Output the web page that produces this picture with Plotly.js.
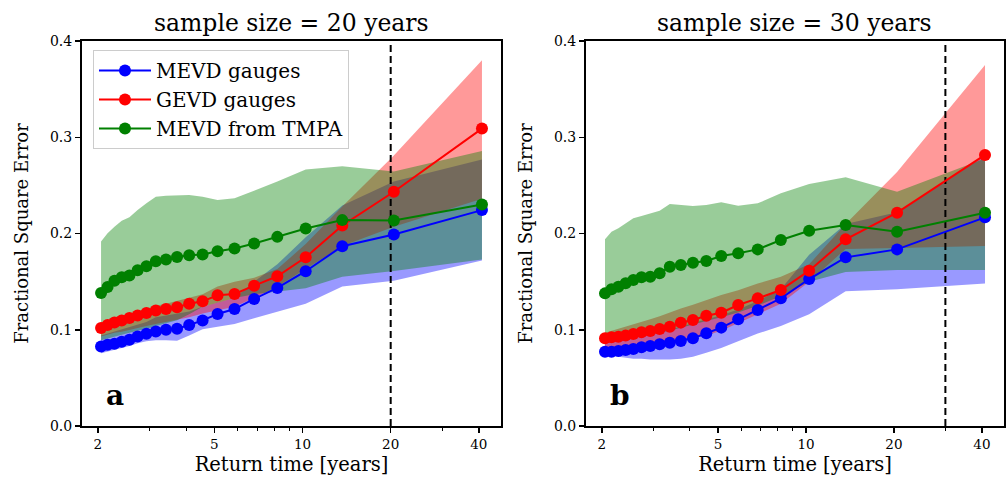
<!DOCTYPE html>
<html>
<head>
<meta charset="utf-8">
<script src="https://cdn.plot.ly/plotly-3.0.1.min.js"></script>
<style>html,body{margin:0;padding:0;background:#fff;}#chart{width:1006px;height:477px;}</style>
</head>
<body>
<div id="chart"></div>
<script>
// Return times [years]
const returnTimes = [2.05, 2.158, 2.278, 2.412, 2.5625, 2.733, 2.929, 3.154, 3.417, 3.727, 4.1, 4.556, 5.125, 5.857, 6.833, 8.2, 10.25, 13.667, 20.5, 41];

// Panel a: sample size = 20 years
const mevdGauges20 = [0.0826, 0.0844, 0.0854, 0.0875, 0.0896, 0.093, 0.0958, 0.0983, 0.100, 0.101, 0.105, 0.1097, 0.1163, 0.1215, 0.132, 0.1434, 0.1608, 0.1868, 0.199, 0.2243];
const mevdGauges20Lo = [0.0755, 0.077, 0.079, 0.081, 0.083, 0.086, 0.088, 0.089, 0.089, 0.0885, 0.094, 0.1005, 0.103, 0.106, 0.112, 0.119, 0.127, 0.145, 0.151, 0.172];
const mevdGauges20Hi = [0.094, 0.096, 0.098, 0.100, 0.102, 0.105, 0.108, 0.113, 0.115, 0.117, 0.119, 0.124, 0.128, 0.133, 0.150, 0.168, 0.196, 0.229, 0.254, 0.277];
const gevdGauges20 = [0.1017, 0.105, 0.1076, 0.1097, 0.1122, 0.1149, 0.1174, 0.1201, 0.1215, 0.1233, 0.1271, 0.1295, 0.1358, 0.1372, 0.1458, 0.1556, 0.1753, 0.2083, 0.2434, 0.309];
const gevdGauges20Lo = [0.093, 0.095, 0.097, 0.098, 0.100, 0.102, 0.104, 0.106, 0.108, 0.110, 0.113, 0.117, 0.120, 0.124, 0.133, 0.145, 0.163, 0.187, 0.207, 0.236];
const gevdGauges20Hi = [0.106, 0.109, 0.112, 0.114, 0.116, 0.119, 0.122, 0.125, 0.127, 0.130, 0.133, 0.137, 0.145, 0.150, 0.154, 0.163, 0.189, 0.228, 0.281, 0.380];
const mevdTmpa20 = [0.1382, 0.1444, 0.151, 0.1545, 0.1563, 0.1618, 0.166, 0.1712, 0.1729, 0.1757, 0.1774, 0.1781, 0.1816, 0.1844, 0.1896, 0.1965, 0.2052, 0.2139, 0.2135, 0.2302];
const mevdTmpa20Lo = [0.089, 0.091, 0.093, 0.095, 0.097, 0.099, 0.101, 0.104, 0.107, 0.110, 0.116, 0.124, 0.128, 0.133, 0.137, 0.140, 0.143, 0.155, 0.161, 0.173];
const mevdTmpa20Hi = [0.1916, 0.2002, 0.207, 0.2133, 0.2168, 0.2244, 0.2313, 0.2383, 0.2393, 0.240, 0.240, 0.2383, 0.2348, 0.2365, 0.2445, 0.254, 0.2666, 0.270, 0.2644, 0.2858];

// Panel b: sample size = 30 years
const mevdGauges30 = [0.0772, 0.0772, 0.0779, 0.079, 0.080, 0.0817, 0.0831, 0.0849, 0.0866, 0.0883, 0.0911, 0.0963, 0.1022, 0.1108, 0.1205, 0.1326, 0.1527, 0.1752, 0.1835, 0.2168];
const mevdGauges30Lo = [0.075, 0.073, 0.072, 0.071, 0.070, 0.070, 0.069, 0.069, 0.069, 0.070, 0.072, 0.076, 0.081, 0.088, 0.096, 0.104, 0.116, 0.140, 0.142, 0.148];
const mevdGauges30Hi = [0.090, 0.091, 0.0915, 0.092, 0.093, 0.094, 0.096, 0.098, 0.100, 0.103, 0.107, 0.111, 0.115, 0.121, 0.130, 0.142, 0.178, 0.210, 0.222, 0.281];
const gevdGauges30 = [0.0911, 0.0921, 0.0928, 0.0939, 0.0956, 0.0973, 0.0987, 0.1008, 0.1032, 0.1074, 0.1101, 0.1146, 0.1177, 0.1257, 0.1326, 0.1413, 0.1614, 0.1939, 0.2216, 0.2816];
const gevdGauges30Lo = [0.081, 0.081, 0.082, 0.083, 0.084, 0.085, 0.086, 0.087, 0.088, 0.090, 0.092, 0.094, 0.099, 0.107, 0.116, 0.127, 0.150, 0.184, 0.185, 0.187];
const gevdGauges30Hi = [0.097, 0.099, 0.101, 0.103, 0.105, 0.108, 0.111, 0.114, 0.118, 0.122, 0.126, 0.131, 0.136, 0.141, 0.148, 0.155, 0.168, 0.210, 0.264, 0.375];
const mevdTmpa30 = [0.1378, 0.142, 0.1447, 0.1482, 0.1517, 0.1545, 0.1551, 0.1586, 0.1655, 0.1673, 0.1697, 0.1714, 0.1766, 0.1794, 0.1835, 0.1932, 0.2029, 0.2088, 0.2019, 0.2216];
const mevdTmpa30Lo = [0.089, 0.090, 0.090, 0.091, 0.092, 0.093, 0.095, 0.097, 0.099, 0.102, 0.105, 0.109, 0.113, 0.118, 0.125, 0.135, 0.150, 0.160, 0.162, 0.162];
const mevdTmpa30Hi = [0.194, 0.2019, 0.2054, 0.2106, 0.2158, 0.2182, 0.221, 0.2237, 0.2306, 0.2296, 0.2286, 0.2296, 0.2324, 0.2289, 0.2313, 0.2417, 0.2514, 0.2584, 0.2434, 0.278];

const sampleSizes = [20, 30];
const panelTitles = ['sample size = 20 years', 'sample size = 30 years'];
const panelLetters = ['a', 'b'];
const seriesNames = ['MEVD gauges', 'GEVD gauges', 'MEVD from TMPA'];
const xTickVals = [2, 5, 10, 20, 40];
const xMinorVals = [3, 4, 6, 7, 8, 9, 30];
const yTickVals = [0.0, 0.1, 0.2, 0.3, 0.4];

const FONT = '"DejaVu Serif", "Liberation Serif", serif';
const lineColors = ['#0000ff', '#ff0000', '#008000'];
const fillColors = ['rgba(0,0,255,0.4)', 'rgba(255,0,0,0.4)', 'rgba(0,128,0,0.4)'];

const panels = [
  {xa: 'x', ya: 'y', mid: [mevdGauges20, gevdGauges20, mevdTmpa20], lo: [mevdGauges20Lo, gevdGauges20Lo, mevdTmpa20Lo], hi: [mevdGauges20Hi, gevdGauges20Hi, mevdTmpa20Hi]},
  {xa: 'x2', ya: 'y2', mid: [mevdGauges30, gevdGauges30, mevdTmpa30], lo: [mevdGauges30Lo, gevdGauges30Lo, mevdTmpa30Lo], hi: [mevdGauges30Hi, gevdGauges30Hi, mevdTmpa30Hi]}
];

const traces = [];
panels.forEach((p, pi) => {
  for (let s = 0; s < 3; s++) {
    traces.push({x: returnTimes, y: p.lo[s], xaxis: p.xa, yaxis: p.ya, mode: 'lines', line: {width: 0, color: 'rgba(0,0,0,0)'}, showlegend: false, hoverinfo: 'skip'});
    traces.push({x: returnTimes, y: p.hi[s], xaxis: p.xa, yaxis: p.ya, mode: 'lines', line: {width: 0, color: 'rgba(0,0,0,0)'}, fill: 'tonexty', fillcolor: fillColors[s], showlegend: false, hoverinfo: 'skip'});
  }
  traces.push({x: [sampleSizes[pi], sampleSizes[pi]], y: [yTickVals[0], yTickVals[yTickVals.length - 1]], xaxis: p.xa, yaxis: p.ya, mode: 'lines', line: {color: '#000', width: 2, dash: '7px,4px'}, showlegend: false, hoverinfo: 'skip'});
  for (let s = 0; s < 3; s++) {
    traces.push({x: returnTimes, y: p.mid[s], xaxis: p.xa, yaxis: p.ya, mode: 'lines+markers', name: seriesNames[s],
      line: {color: lineColors[s], width: 2}, marker: {color: lineColors[s], size: 12}, showlegend: pi === 0});
  }
});

const xRange = [0.2467, 1.6778];
function xAxis(domain, anchor) {
  return {domain: domain, anchor: anchor, type: 'log', range: xRange, tickvals: xTickVals, ticktext: xTickVals.map(String),
    ticks: 'outside', ticklen: 5, tickwidth: 1.5, tickcolor: '#000', showline: true, mirror: true, linecolor: '#000', linewidth: 2,
    showgrid: false, zeroline: false, tickfont: {family: FONT, size: 13.5, color: '#000'},
    minor: {tickvals: xMinorVals, ticks: 'outside', ticklen: 3, tickwidth: 1, tickcolor: '#000', showgrid: false},
    title: {text: 'Return time [years]', font: {family: FONT, size: 19.5, color: '#000'}, standoff: 6}};
}
function yAxis(domain, anchor) {
  return {domain: domain, anchor: anchor, range: [0, 0.4], tickvals: yTickVals, tickformat: '.1f',
    ticks: 'outside', ticklen: 5, tickwidth: 1.5, tickcolor: '#000', showline: true, mirror: true, linecolor: '#000', linewidth: 2,
    showgrid: false, zeroline: false, tickfont: {family: FONT, size: 14, color: '#000'},
    title: {text: 'Fractional Square Error', font: {family: FONT, size: 18, color: '#000'}, standoff: 17}};
}

const W = 1006, H = 477;
const yDom = [1 - 426 / H, 1 - 41 / H];
const xDom1 = [82 / W, 501 / W];
const xDom2 = [586 / W, 1004 / W];

const annotations = [];
[xDom1, xDom2].forEach((d, i) => {
  annotations.push({text: panelTitles[i], xref: 'paper', yref: 'paper', x: (d[0] + d[1]) / 2, y: yDom[1], xanchor: 'center', yanchor: 'bottom', yshift: 2,
    showarrow: false, font: {family: FONT, size: 23.5, color: '#000'}});
  annotations.push({text: '<b>' + panelLetters[i] + '</b>', xref: 'paper', yref: 'paper', x: d[0] + 22 / W, y: yDom[0] + 12 / H, xanchor: 'left', yanchor: 'bottom',
    showarrow: false, font: {family: FONT, size: 28, color: '#000'}});
});

const layout = {
  width: W, height: H, margin: {l: 0, r: 0, t: 0, b: 0}, paper_bgcolor: '#fff', plot_bgcolor: '#fff',
  font: {family: FONT, color: '#000'},
  xaxis: xAxis(xDom1, 'y'), yaxis: yAxis(yDom, 'x'),
  xaxis2: xAxis(xDom2, 'y2'), yaxis2: yAxis(yDom, 'x2'),
  showlegend: true,
  legend: {x: 93 / W, y: 1 - 50 / H, xanchor: 'left', yanchor: 'top', bgcolor: 'rgba(255,255,255,0.85)', bordercolor: '#cccccc', borderwidth: 1,
    font: {family: FONT, size: 20, color: '#000'}, itemwidth: 52, tracegroupgap: 0, traceorder: 'normal'},
  annotations: annotations
};

Plotly.newPlot('chart', traces, layout, {staticPlot: true, displayModeBar: false});
</script>
</body>
</html>
